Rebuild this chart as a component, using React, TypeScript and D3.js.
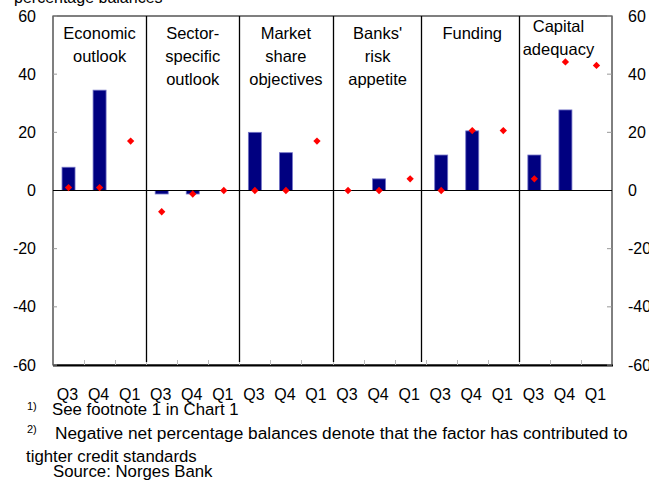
import { useRef, useEffect } from 'react';
import * as d3 from 'd3';

const panels = [
  ['Economic', 'outlook'],
  ['Sector-', 'specific', 'outlook'],
  ['Market', 'share', 'objectives'],
  ["Banks'", 'risk', 'appetite'],
  ['Funding'],
  ['Capital', 'adequacy'],
];
const quarters = ['Q3', 'Q4', 'Q1'];

// dark bars: Q3 and Q4 only
const barValues: (number | null)[][] = [
  [8, 34.5, null],
  [-1.2, -1.2, null],
  [20, 13, null],
  [0, 4, null],
  [12.2, 20.5, null],
  [12.2, 27.7, null],
];
// red diamonds
const dotValues = [
  [1, 1, 17],
  [-7.3, -1.2, 0],
  [0, 0, 17],
  [0, 0, 4],
  [0, 20.6, 20.6],
  [4, 44.2, 43],
];

const yTicks = [-60, -40, -20, 0, 20, 40, 60];

export default function App() {
  const svgRef = useRef<SVGSVGElement>(null);

  useEffect(() => {
    if (!svgRef.current) return;
    const width = 649;
    const height = 481;
    const left = 53, right = 612, top = 16, bottom = 365;
    const font = 'Liberation Sans, Arial, sans-serif';

    const svg = d3.select(svgRef.current).attr('width', width).attr('height', height);
    svg.selectAll('*').remove();

    const cats = panels.flatMap((_, p) => quarters.map((q, i) => `${p}-${i}`));
    const x = d3.scaleBand().domain(cats).range([left, right]);
    const y = d3.scaleLinear().domain([-60, 60]).range([bottom, top]);
    const bw = x.bandwidth();

    // header (mostly clipped at top)
    svg.append('text').attr('x', 14).attr('y', 3).attr('font-family', font).attr('font-size', 16)
      .text('percentage balances');

    // frame
    svg.append('rect').attr('x', left).attr('y', top).attr('width', right - left).attr('height', bottom - top)
      .attr('fill', 'none').attr('stroke', '#000').attr('stroke-width', 1);
    svg.append('line').attr('x1', left).attr('x2', right + 1).attr('y1', bottom + 0.5).attr('y2', bottom + 0.5)
      .attr('stroke', '#000').attr('stroke-width', 2);

    // y ticks
    const tg = svg.append('g');
    yTicks.forEach(t => {
      tg.append('line').attr('x1', left).attr('x2', left + 4).attr('y1', y(t)).attr('y2', y(t)).attr('stroke', '#999');
      tg.append('line').attr('x1', right - 5).attr('x2', right).attr('y1', y(t)).attr('y2', y(t)).attr('stroke', '#999');
      tg.append('text').attr('x', 36).attr('y', y(t) + 5.5).attr('text-anchor', 'end')
        .attr('font-family', font).attr('font-size', 16).text(t);
      tg.append('text').attr('x', 628).attr('y', y(t) + 5.5)
        .attr('font-family', font).attr('font-size', 16).text(t);
    });

    // bottom minor ticks at category boundaries
    cats.slice(1).forEach(c => {
      const xx = Math.round(x(c)!) + 0.5;
      svg.append('line').attr('x1', xx).attr('x2', xx).attr('y1', bottom - 5).attr('y2', bottom).attr('stroke', '#bbb');
    });

    // zero line
    svg.append('line').attr('x1', left).attr('x2', right).attr('y1', y(0)).attr('y2', y(0)).attr('stroke', '#000');

    // panel dividers
    const dividerAt = [3, 6, 9, 11.85, 15];
    dividerAt.forEach(d => {
      const xx = Math.round(left + d * bw) + 0.5;
      svg.append('line').attr('x1', xx).attr('x2', xx).attr('y1', top).attr('y2', bottom - 3)
        .attr('stroke', '#000').attr('stroke-width', 1.3);
    });

    // bars
    const bars = panels.flatMap((_, p) => barValues[p].map((v, i) => ({ key: `${p}-${i}`, v })))
      .filter(d => d.v !== null && d.v !== 0) as { key: string; v: number }[];
    svg.append('g').selectAll('rect').data(bars).join('rect')
      .attr('x', d => x(d.key)! + bw / 2 - 6.5)
      .attr('width', 13)
      .attr('y', d => Math.min(y(d.v), y(0)))
      .attr('height', d => Math.abs(y(d.v) - y(0)))
      .attr('fill', '#000080')
      .attr('stroke', '#7373c6')
      .attr('stroke-width', 0.8);

    // zero line redrawn over bars
    svg.append('line').attr('x1', left).attr('x2', right).attr('y1', y(0)).attr('y2', y(0)).attr('stroke', '#000');

    // dots
    const dots = panels.flatMap((_, p) => dotValues[p].map((v, i) => ({ key: `${p}-${i}`, v })));
    const diamond = d3.symbol().type(d3.symbolDiamond2).size(34);
    svg.append('g').selectAll('path').data(dots).join('path')
      .attr('transform', d => `translate(${x(d.key)! + bw / 2},${y(d.v)})`)
      .attr('d', diamond)
      .attr('fill', '#ff0000');

    // panel titles
    const titleShift = [0, 0, 0, -1.5, 0, -7];
    const titleTop = [39, 39, 39, 39, 39, 32];
    panels.forEach((lines, p) => {
      const cx = left + (p * 3 + 1.5) * bw + titleShift[p];
      lines.forEach((ln, i) => {
        svg.append('text').attr('x', cx).attr('y', titleTop[p] + i * 23)
          .attr('text-anchor', 'middle').attr('font-family', font).attr('font-size', 16.5).text(ln);
      });
    });

    // quarter labels
    svg.append('g').selectAll('text').data(cats).join('text')
      .attr('x', d => x(d)! + bw / 2 - 1)
      .attr('y', 400)
      .attr('text-anchor', 'middle')
      .attr('font-family', font).attr('font-size', 16)
      .text(d => quarters[+d.split('-')[1]]);

    // footnotes
    const fn = svg.append('g').attr('font-family', font);
    fn.append('text').attr('x', 27).attr('y', 410).attr('font-size', 11).text('1)');
    fn.append('text').attr('x', 52).attr('y', 415).attr('font-size', 16.8).text('See footnote 1 in Chart 1');
    fn.append('text').attr('x', 27).attr('y', 433).attr('font-size', 11).text('2)');
    fn.append('text').attr('x', 55).attr('y', 439).attr('font-size', 17.3)
      .text('Negative net percentage balances denote that the factor has contributed to');
    fn.append('text').attr('x', 26).attr('y', 462).attr('font-size', 16.8).text('tighter credit standards');
    fn.append('text').attr('x', 53).attr('y', 477).attr('font-size', 16.8).text('Source: Norges Bank');
  }, []);

  return (
    <svg ref={svgRef} style={{ position: 'absolute', left: 0, top: 0, background: '#fff' }}></svg>
  );
}
